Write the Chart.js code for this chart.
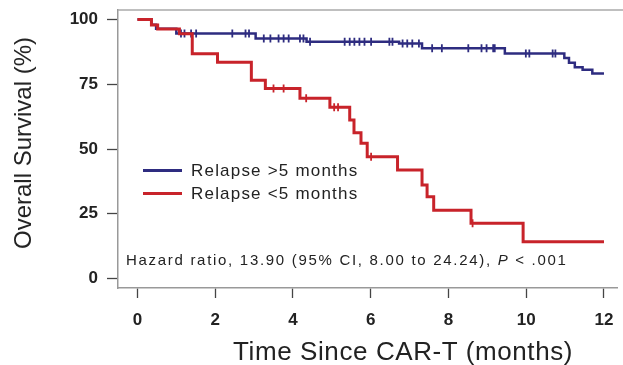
<!DOCTYPE html>
<html>
<head>
<meta charset="utf-8">
<script src="https://cdn.jsdelivr.net/npm/chart.js@4.4.0/dist/chart.umd.min.js"></script>
<style>
  body { margin: 0; background: #fff; }
  #wrap { position: relative; width: 623px; height: 365px; }
  .txt { position: absolute; font-family: 'Liberation Sans', Arial, sans-serif; color: #222; white-space: nowrap; }
  .leg { font-size: 17px; letter-spacing: 1.2px; line-height: 20px; }
  .sw { position: absolute; width: 39px; height: 3px; }
  .hr { font-size: 15px; letter-spacing: 1.7px; line-height: 18px; }
  .ttl { font-size: 26px; letter-spacing: 0.6px; line-height: 30px; }
</style>
</head>
<body>
<div id="wrap">
  <canvas id="km" width="623" height="365"></canvas>

  <div class="sw" style="left:143px; top:169px; background:#2e2c80"></div>
  <div class="txt leg" style="left:191px; top:161px">Relapse &gt;5 months</div>
  <div class="sw" style="left:143px; top:192px; background:#c8232a"></div>
  <div class="txt leg" style="left:191px; top:184px">Relapse &lt;5 months</div>

  <div class="txt hr" style="left:126px; top:251px">Hazard ratio, 13.90 (95% CI, 8.00 to 24.24), <i>P</i> &lt; .001</div>

  <div class="txt ttl" style="left:233px; top:336px">Time Since CAR-T (months)</div>
  <div class="txt ttl" style="left:23px; top:143px; font-size:24px; letter-spacing:0; transform: translate(-50%, -50%) rotate(-90deg);">Overall Survival (%)</div>
</div>

<script>
// Relapse >5 months (blue)
const blueT = [0, 0.36, 0.48, 1.0, 3.04, 4.35, 6.73, 7.32, 9.45, 10.98, 11.1, 11.25, 11.45, 11.7, 12.0];
const blueS = [100, 98.0, 96.5, 94.6, 92.7, 91.4, 90.8, 88.9, 86.9, 85.2, 83.3, 81.6, 80.6, 79.2, 79.2];
const blueCens = [1.12, 1.21, 1.38, 1.51, 2.44, 2.78, 2.87, 3.25, 3.42, 3.63, 3.76, 3.89, 4.18, 4.27,
  4.44, 5.33, 5.46, 5.58, 5.71, 5.84, 6.01, 6.48, 6.56, 6.82, 6.94, 7.07, 7.24, 7.58, 7.83,
  8.51, 8.85, 8.98, 9.15, 9.19, 9.99, 10.08, 10.68, 10.75];

// Relapse <5 months (red)
const redT = [0, 0.36, 0.52, 1.08, 1.41, 2.06, 2.93, 3.29, 4.18, 4.95, 5.46, 5.57, 5.75, 5.91, 6.69, 7.32, 7.45, 7.62, 8.58, 9.92, 12.0];
const redS = [100, 97.9, 96.4, 94.5, 86.8, 83.5, 76.6, 73.4, 69.6, 66.1, 61.2, 56.3, 52.2, 47.0, 41.9, 36.1, 31.6, 26.4, 21.3, 14.2, 14.2];
const redCens = [3.5, 3.76, 4.34, 5.06, 5.16, 6.01, 8.62];

const xTicks = [0, 2, 4, 6, 8, 10, 12];
const yTicks = [0, 25, 50, 75, 100];

const BLUE = '#2e2c80';
const RED = '#c8232a';

function pts(t, s) {
  return t.map((v, i) => ({ x: v, y: s[i] }));
}

// survival value of the curve at a censor time
function survAt(t, s, x) {
  let y = s[0];
  for (let i = 0; i < t.length; i++) {
    if (t[i] <= x) y = s[i];
  }
  return y;
}

function censPts(c, t, s) {
  return c.map(x => ({ x: x, y: survAt(t, s, x) }));
}

// grey frame line along the top, runs to the right edge
const topBorder = {
  id: 'topBorder',
  afterDraw(chart) {
    const { ctx, chartArea } = chart;
    ctx.save();
    ctx.strokeStyle = '#aaa';
    ctx.lineWidth = 1.5;
    ctx.beginPath();
    ctx.moveTo(chartArea.left, chartArea.top);
    ctx.lineTo(chart.width, chartArea.top);
    ctx.stroke();
    ctx.restore();
  }
};

const ctx = document.getElementById('km').getContext('2d');

new Chart(ctx, {
  type: 'line',
  data: {
    datasets: [
      {
        data: pts(redT, redS),
        borderColor: RED,
        borderWidth: 3,
        stepped: true,
        pointRadius: 0,
        fill: false
      },
      {
        data: censPts(redCens, redT, redS),
        showLine: false,
        pointStyle: 'line',
        rotation: 90,
        pointRadius: 4,
        borderColor: RED,
        borderWidth: 1.8
      },
      {
        data: pts(blueT, blueS),
        borderColor: BLUE,
        borderWidth: 2.5,
        stepped: true,
        pointRadius: 0,
        fill: false
      },
      {
        data: censPts(blueCens, blueT, blueS),
        showLine: false,
        pointStyle: 'line',
        rotation: 90,
        pointRadius: 4,
        borderColor: BLUE,
        borderWidth: 1.8
      }
    ]
  },
  options: {
    responsive: false,
    animation: false,
    layout: { padding: { top: 10, right: 1, left: 0, bottom: 0 } },
    plugins: {
      legend: { display: false },
      tooltip: { enabled: false }
    },
    scales: {
      x: {
        type: 'linear',
        min: -0.5,
        max: 12.34,
        afterBuildTicks: s => { s.ticks = xTicks.map(v => ({ value: v })); },
        afterFit: s => {
          s.height = 77;
          s.paddingLeft = 0;
          s.paddingRight = 0;
        },
        grid: { drawOnChartArea: false, tickLength: 10, tickColor: '#444', tickWidth: 1.3 },
        border: { color: '#999', width: 1.5 },
        ticks: {
          color: '#222',
          padding: 12,
          maxRotation: 0,
          font: { family: "'Liberation Sans', Arial", size: 17, weight: 'bold' }
        }
      },
      y: {
        type: 'linear',
        min: -3.67,
        max: 103.7,
        afterBuildTicks: s => { s.ticks = yTicks.map(v => ({ value: v })); },
        afterFit: s => {
          s.width = 118;
          s.paddingTop = 0;
          s.paddingBottom = 0;
        },
        grid: { drawOnChartArea: false, tickLength: 11, tickColor: '#444', tickWidth: 1.3 },
        border: { color: '#999', width: 1.5 },
        ticks: {
          color: '#222',
          padding: 9,
          font: { family: "'Liberation Sans', Arial", size: 17, weight: 'bold' }
        }
      }
    }
  },
  plugins: [topBorder]
});
</script>
</body>
</html>
